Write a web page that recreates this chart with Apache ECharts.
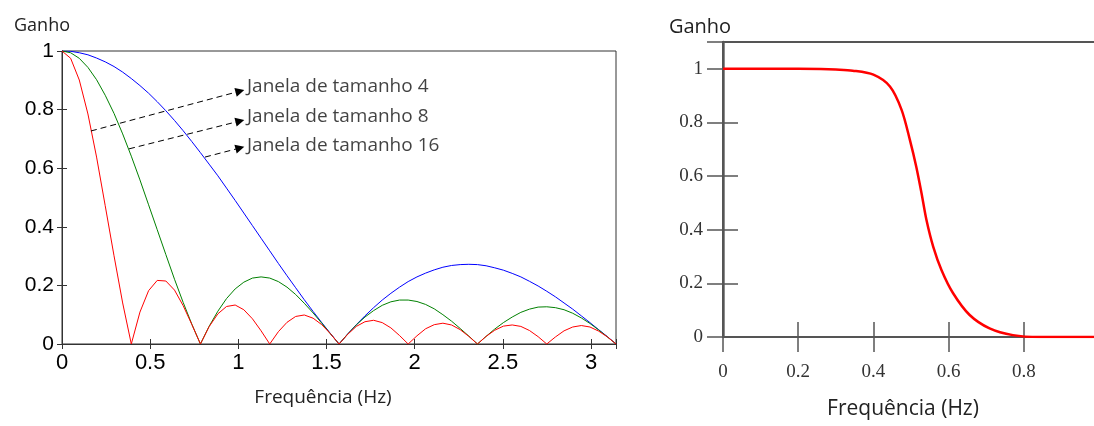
<!DOCTYPE html>
<html>
<head>
<meta charset="utf-8">
<script src="https://cdn.jsdelivr.net/npm/echarts@6/dist/echarts.min.js"></script>
<style>
  html, body { margin: 0; padding: 0; background: #fff; }
  #chart { width: 1094px; height: 426px; }
</style>
</head>
<body>
<div id="chart"></div>
<script>
// frequencias (0 .. pi) do grafico da esquerda
var freq = [0, 0.049, 0.098, 0.147, 0.196, 0.245, 0.295, 0.344, 0.393, 0.442, 0.491, 0.540, 0.589, 0.638, 0.687, 0.736,
  0.785, 0.834, 0.884, 0.933, 0.982, 1.031, 1.080, 1.129, 1.178, 1.227, 1.276, 1.325, 1.374, 1.424, 1.473, 1.522,
  1.571, 1.620, 1.669, 1.718, 1.767, 1.816, 1.865, 1.914, 1.963, 2.013, 2.062, 2.111, 2.160, 2.209, 2.258, 2.307,
  2.356, 2.405, 2.454, 2.503, 2.553, 2.602, 2.651, 2.700, 2.749, 2.798, 2.847, 2.896, 2.945, 2.994, 3.043, 3.093, 3.142];
// curva azul
var ganhoAzul = [1, 0.999, 0.994, 0.987, 0.976, 0.963, 0.947, 0.928, 0.906, 0.882, 0.856, 0.827, 0.796, 0.763, 0.728, 0.691,
  0.653, 0.614, 0.574, 0.532, 0.490, 0.447, 0.404, 0.361, 0.318, 0.275, 0.233, 0.192, 0.151, 0.111, 0.073, 0.036,
  0, 0.034, 0.066, 0.096, 0.124, 0.150, 0.173, 0.194, 0.213, 0.229, 0.242, 0.253, 0.262, 0.268, 0.271, 0.272,
  0.271, 0.267, 0.260, 0.252, 0.241, 0.229, 0.214, 0.198, 0.180, 0.161, 0.140, 0.119, 0.096, 0.073, 0.049, 0.025, 0];
// curva verde
var ganhoVerde = [1, 0.994, 0.975, 0.944, 0.902, 0.849, 0.787, 0.717, 0.641, 0.560, 0.475, 0.390, 0.305, 0.221, 0.142, 0.068,
  0, 0.060, 0.112, 0.155, 0.188, 0.211, 0.225, 0.229, 0.225, 0.213, 0.194, 0.169, 0.139, 0.106, 0.071, 0.035,
  0, 0.034, 0.065, 0.092, 0.114, 0.132, 0.144, 0.150, 0.150, 0.145, 0.135, 0.120, 0.100, 0.078, 0.053, 0.027,
  0, 0.026, 0.051, 0.073, 0.092, 0.108, 0.119, 0.126, 0.127, 0.124, 0.117, 0.105, 0.089, 0.070, 0.048, 0.024, 0];
// curva vermelha
var ganhoVermelho = [1, 0.975, 0.901, 0.785, 0.638, 0.472, 0.301, 0.140, 0, 0.109, 0.182, 0.217, 0.215, 0.184, 0.131, 0.067,
  0, 0.059, 0.103, 0.128, 0.133, 0.117, 0.086, 0.045, 0, 0.042, 0.074, 0.094, 0.099, 0.088, 0.066, 0.035,
  0, 0.033, 0.060, 0.076, 0.081, 0.073, 0.055, 0.029, 0, 0.028, 0.052, 0.066, 0.071, 0.065, 0.049, 0.026,
  0, 0.026, 0.047, 0.061, 0.065, 0.060, 0.046, 0.025, 0, 0.024, 0.045, 0.058, 0.063, 0.058, 0.044, 0.024, 0];

// setas e textos
var setaInicio = [[0.164, 0.727], [0.38, 0.666], [0.811, 0.638]];
var setaFim = [[1.009, 0.863], [1.009, 0.761], [1.009, 0.669]];
var textoPos = [[1.049, 0.877], [1.049, 0.775], [1.049, 0.676]];
var textos = ['Janela de tamanho 4', 'Janela de tamanho 8', 'Janela de tamanho 16'];

// grafico da direita (passa-baixa)
var freqFiltro = [0, 0.1, 0.2, 0.26, 0.3, 0.345, 0.4, 0.444, 0.475, 0.497, 0.514, 0.528, 0.541, 0.559, 0.581, 0.612, 0.656, 0.709, 0.771, 0.842, 0.9, 1.0];
var ganhoFiltro = [1, 1, 1, 0.999, 0.997, 0.993, 0.978, 0.934, 0.847, 0.735, 0.635, 0.536, 0.437, 0.337, 0.25, 0.163, 0.082, 0.032, 0.007, 0, 0, 0];

function pares(xs, ys) {
  return xs.map(function (x, i) { return [x, ys[i]]; });
}

var myChart = echarts.init(document.getElementById('chart'));

var eixoPreto = { lineStyle: { color: '#333', width: 1 } };
var eixoCinza = { lineStyle: { color: '#555', width: 2 } };
var fonteSans = 'Liberation Sans';
var fonteTitulo = 'Open Sans';
var fonteSerif = 'Liberation Serif';

var option = {
  animation: false,
  grid: [
    { left: 62, top: 51, width: 554, height: 293, outerBoundsMode: 'none', show: true, borderColor: '#333', borderWidth: 1 },
    { left: 723, top: 42, width: 376, height: 295, outerBoundsMode: 'none', show: true, borderColor: '#555', borderWidth: 2 }
  ],
  xAxis: [
    {
      gridIndex: 0, type: 'value', min: 0, max: 3.1416, interval: 0.5, position: 'bottom',
      axisLine: eixoPreto,
      axisTick: { inside: true, length: 5, lineStyle: { color: '#333' } },
      axisLabel: {
        fontFamily: fonteSans, fontSize: 22, color: '#000', margin: 8,
        formatter: function (v) { return v > 3.1 ? '' : String(v); }
      },
      splitLine: { show: false },
      name: 'Frequência (Hz)', nameLocation: 'middle', nameGap: 44,
      nameTextStyle: { fontFamily: fonteTitulo, fontSize: 19, color: '#222', padding: [0, 32, 0, 0] }
    },
    {
      gridIndex: 0, type: 'value', min: 0, max: 3.1416, interval: 0.5, position: 'top',
      axisLine: eixoPreto,
      axisTick: { inside: true, length: 5, lineStyle: { color: '#333' } },
      axisLabel: { show: false },
      splitLine: { show: false }
    },
    {
      gridIndex: 1, type: 'value', min: 0, max: 1, interval: 0.2, position: 'bottom',
      axisLine: eixoCinza,
      axisTick: { inside: false, length: 15, lineStyle: { color: '#555', width: 1.5 } },
      axisLabel: {
        fontFamily: fonteSerif, fontSize: 19, color: '#333', margin: 26,
        formatter: function (v) { return v > 0.95 ? '' : String(v); }
      },
      splitLine: { show: false },
      name: 'Frequência (Hz)', nameLocation: 'middle', nameGap: 62,
      nameTextStyle: { fontFamily: fonteTitulo, fontSize: 21, color: '#222', padding: [0, 16, 0, 0] }
    },
    {
      gridIndex: 1, type: 'value', min: 0, max: 1, interval: 0.2, position: 'bottom',
      axisLine: { show: false },
      axisTick: { inside: true, length: 15, lineStyle: { color: '#555', width: 1.5 } },
      axisLabel: { show: false },
      splitLine: { show: false }
    }
  ],
  yAxis: [
    {
      gridIndex: 0, type: 'value', min: 0, max: 1, interval: 0.2, position: 'left',
      axisLine: eixoPreto,
      axisTick: { inside: true, length: 5, lineStyle: { color: '#333' } },
      axisLabel: { fontFamily: fonteSans, fontSize: 21, color: '#000', margin: 8 },
      splitLine: { show: false },
      name: 'Ganho', nameLocation: 'end', nameGap: 16,
      nameTextStyle: { fontFamily: fonteTitulo, fontSize: 18, color: '#222', padding: [0, 40, 0, 0] }
    },
    {
      gridIndex: 0, type: 'value', min: 0, max: 1, interval: 0.2, position: 'right',
      axisLine: eixoPreto,
      axisTick: { inside: true, length: 5, lineStyle: { color: '#333' } },
      axisLabel: { show: false },
      splitLine: { show: false }
    },
    {
      gridIndex: 1, type: 'value', min: 0, max: 1.1, interval: 0.2, position: 'left',
      axisLine: { lineStyle: { color: '#666', width: 2.5 } },
      axisTick: { inside: true, length: 15, lineStyle: { color: '#555', width: 1.5 } },
      axisLabel: {
        fontFamily: fonteSerif, fontSize: 19, color: '#333', margin: 20,
        formatter: function (v) { return v > 1.05 ? '' : String(v); }
      },
      splitLine: { show: false },
      name: 'Ganho', nameLocation: 'end', nameGap: 5,
      nameTextStyle: { fontFamily: fonteTitulo, fontSize: 20, color: '#222', padding: [0, 46, 0, 0] }
    },
    {
      gridIndex: 1, type: 'value', min: 0, max: 1.1, interval: 0.2, position: 'right',
      axisLine: { lineStyle: { color: '#555', width: 2 } },
      axisTick: { inside: true, length: 16, lineStyle: { color: '#555', width: 1.5 } },
      axisLabel: { show: false },
      splitLine: { show: false }
    }
  ],
  series: [
    {
      name: 'azul', type: 'line', xAxisIndex: 0, yAxisIndex: 0,
      data: pares(freq, ganhoAzul), symbol: 'none',
      lineStyle: { color: '#0000ff', width: 1 }, itemStyle: { color: '#0000ff' },
      markLine: {
        silent: true, symbol: ['none', 'triangle'], symbolSize: 9,
        label: { show: false },
        lineStyle: { color: '#000', type: [6, 4], width: 1 },
        itemStyle: { color: '#000' },
        data: setaInicio.map(function (p, i) {
          return [{ coord: p }, { coord: setaFim[i] }];
        })
      }
    },
    {
      name: 'verde', type: 'line', xAxisIndex: 0, yAxisIndex: 0,
      data: pares(freq, ganhoVerde), symbol: 'none',
      lineStyle: { color: '#008000', width: 1 }, itemStyle: { color: '#008000' }
    },
    {
      name: 'vermelho', type: 'line', xAxisIndex: 0, yAxisIndex: 0,
      data: pares(freq, ganhoVermelho), symbol: 'none',
      lineStyle: { color: '#ff0000', width: 1 }, itemStyle: { color: '#ff0000' }
    },
    {
      name: 'textos', type: 'scatter', xAxisIndex: 0, yAxisIndex: 0,
      data: textoPos, symbolSize: 0, silent: true,
      label: {
        show: true, position: 'right', distance: 0,
        fontFamily: fonteTitulo, fontSize: 19, color: '#111',
        formatter: function (p) { return textos[p.dataIndex]; }
      }
    },
    {
      name: 'filtro', type: 'line', xAxisIndex: 2, yAxisIndex: 2,
      data: pares(freqFiltro, ganhoFiltro), symbol: 'none',
      smooth: 0.3,
      lineStyle: { color: '#ff0000', width: 2.5 }, itemStyle: { color: '#ff0000' }
    }
  ]
};

myChart.setOption(option);
</script>
</body>
</html>
